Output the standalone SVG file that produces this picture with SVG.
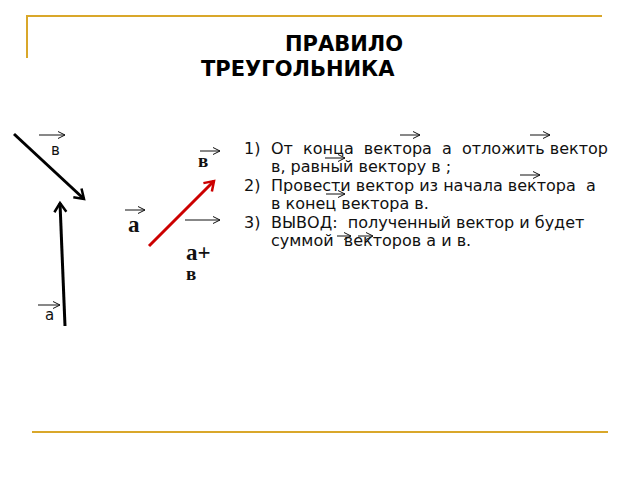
<svg xmlns="http://www.w3.org/2000/svg" width="640" height="480" viewBox="0 0 640 480">
<style>
.frame{stroke:#D9A72A;stroke-width:2;fill:none}
.title{font-family:"DejaVu Sans",sans-serif;font-weight:bold;font-size:21px;fill:#000}
.body{font-family:"DejaVu Sans",sans-serif;font-size:16px;fill:#111;white-space:pre}
.lbl{font-family:"DejaVu Sans",sans-serif;font-size:15px;fill:#111}
.ser{font-family:"Liberation Serif",serif;font-weight:bold;fill:#111}
.vec{stroke:#111;stroke-width:1;fill:none;marker-end:url(#sm)}
.big{stroke:#000;stroke-width:3;fill:none;marker-end:url(#bk)}
.red{stroke:#CC0000;stroke-width:3;fill:none;marker-end:url(#rd)}
</style>
<defs>
<marker id="sm" markerUnits="userSpaceOnUse" markerWidth="10" markerHeight="10" refX="7" refY="4" orient="auto" overflow="visible">
<path d="M0,0.5 L7,4 L0,7.5" fill="none" stroke="#111" stroke-width="1"/>
</marker>
<marker id="bk" markerUnits="userSpaceOnUse" markerWidth="14" markerHeight="14" refX="10" refY="6" orient="auto" overflow="visible">
<path d="M1,0 L10,6 L1,12" fill="none" stroke="#000" stroke-width="2.5"/>
</marker>
<marker id="rd" markerUnits="userSpaceOnUse" markerWidth="14" markerHeight="14" refX="10" refY="6" orient="auto" overflow="visible">
<path d="M1,0 L10,6 L1,12" fill="none" stroke="#CC0000" stroke-width="2.5"/>
</marker>
</defs>
<g id="frame">
<polyline class="frame" points="27,58 27,16 602,16"/>
<line class="frame" x1="32" y1="432" x2="608" y2="432"/>
</g>
<g id="title">
<text class="title" x="285" y="51">ПРАВИЛО</text>
<text class="title" x="201" y="76">ТРЕУГОЛЬНИКА</text>
</g>
<g id="connectors">
<line class="big" x1="14" y1="134" x2="84" y2="199"/>
<line class="big" x1="65" y1="326" x2="60" y2="203"/>
<line class="red" x1="149" y1="246" x2="214" y2="181"/>
</g>
<g id="left-labels">
<line class="vec" x1="39" y1="135" x2="65" y2="135"/>
<text class="lbl" x="51" y="155">в</text>
<line class="vec" x1="38" y1="305" x2="60" y2="305"/>
<text class="lbl" x="45" y="320">а</text>
</g>
<g id="sum-labels">
<line class="vec" x1="200" y1="151" x2="220" y2="151"/>
<text class="ser" x="198" y="167" font-size="19">в</text>
<line class="vec" x1="125" y1="210" x2="145" y2="210"/>
<text class="ser" x="128" y="232" font-size="23">а</text>
<line class="vec" x1="185" y1="220" x2="220" y2="220"/>
<text class="ser" x="186" y="260" font-size="23">а+</text>
<text class="ser" x="186" y="280" font-size="19">в</text>
</g>
<g id="rules">
<text class="body" x="244" y="154">1)</text>
<text class="body" x="271" y="154">От  конца  вектора  а  отложить вектор</text>
<text class="body" x="271" y="172">в, равный вектору в ;</text>
<text class="body" x="244" y="191">2)</text>
<text class="body" x="271" y="191">Провести вектор из начала вектора  а</text>
<text class="body" x="271" y="209">в конец вектора в.</text>
<text class="body" x="244" y="228">3)</text>
<text class="body" x="271" y="228">ВЫВОД:  полученный вектор и будет</text>
<text class="body" x="271" y="246">суммой  векторов а и в.</text>
<line class="vec" x1="400" y1="135" x2="420" y2="135"/>
<line class="vec" x1="530" y1="135" x2="550" y2="135"/>
<line class="vec" x1="325" y1="158" x2="345" y2="158"/>
<line class="vec" x1="520" y1="175" x2="540" y2="175"/>
<line class="vec" x1="326" y1="194" x2="345" y2="194"/>
<line class="vec" x1="337" y1="236" x2="351" y2="236"/>
<line class="vec" x1="358" y1="236" x2="373" y2="236"/>
</g>
</svg>
